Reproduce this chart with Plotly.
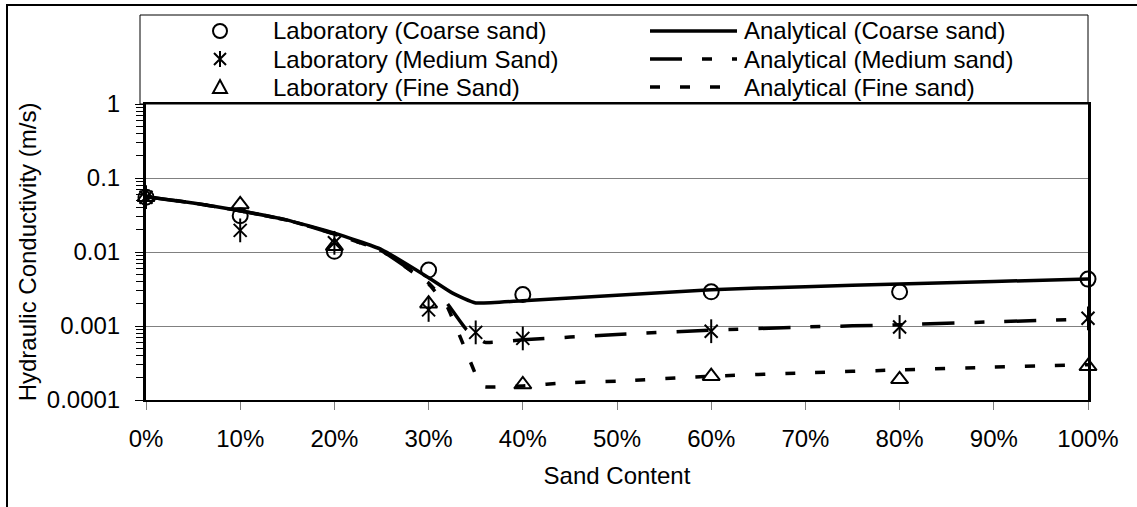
import plotly.graph_objects as go

# ---- data -------------------------------------------------------------
# sand content (fraction) of the laboratory mixes
lab_x = [0.0, 0.10, 0.20, 0.30, 0.40, 0.60, 0.80, 1.00]
lab_medium_x = [0.0, 0.10, 0.20, 0.30, 0.35, 0.40, 0.60, 0.80, 1.00]

# measured hydraulic conductivity (m/s)
lab_coarse = [0.055, 0.031, 0.0102, 0.0057, 0.00266, 0.0029, 0.0029, 0.0043]
lab_medium = [0.055, 0.0196, 0.0133, 0.00165, 0.00082, 0.00068, 0.00085, 0.00097, 0.00127]
lab_fine = [0.055, 0.044, 0.0120, 0.0020, 0.000162, 0.00021, 0.00019, 0.000285]

# analytical model curves
ana_coarse_x = [0.0, 0.05, 0.10, 0.15, 0.20, 0.25, 0.30, 0.325, 0.35, 0.40,
                0.50, 0.60, 0.70, 0.80, 0.90, 1.00]
ana_coarse = [0.056, 0.046, 0.036, 0.027, 0.018, 0.0108, 0.0045, 0.0028, 0.00205, 0.0022,
              0.0026, 0.0031, 0.0034, 0.0037, 0.0040, 0.0043]

ana_medium_x = [0.0, 0.05, 0.10, 0.15, 0.20, 0.25, 0.30, 0.32, 0.34, 0.36, 0.40,
                0.50, 0.60, 0.70, 0.80, 0.90, 1.00]
ana_medium = [0.056, 0.046, 0.036, 0.027, 0.0175, 0.0104, 0.0038, 0.0020, 0.0009, 0.0006, 0.00065,
              0.00077, 0.00088, 0.00097, 0.00104, 0.00114, 0.00124]

ana_fine_x = [0.0, 0.05, 0.10, 0.15, 0.20, 0.25, 0.30, 0.32, 0.34, 0.355, 0.36, 0.40,
              0.45, 0.50, 0.60, 0.70, 0.80, 0.90, 1.00]
ana_fine = [0.056, 0.046, 0.036, 0.027, 0.0175, 0.0104, 0.0037, 0.0018, 0.00045, 0.00016, 0.00015, 0.000155,
            0.000172, 0.00018, 0.00021, 0.000233, 0.000255, 0.000278, 0.0003]

x_ticks = [0.0, 0.1, 0.2, 0.3, 0.4, 0.5, 0.6, 0.7, 0.8, 0.9, 1.0]
x_ticktext = ["0%", "10%", "20%", "30%", "40%", "50%", "60%", "70%", "80%", "90%", "100%"]
y_ticks = [0.0001, 0.001, 0.01, 0.1, 1]
y_ticktext = ["0.0001", "0.001", "0.01", "0.1", "1"]

legend_lab = ["Laboratory (Coarse sand)", "Laboratory (Medium Sand)", "Laboratory (Fine Sand)"]
legend_ana = ["Analytical (Coarse sand)", "Analytical (Medium sand)", "Analytical (Fine sand)"]

# ---- layout geometry (pixels) ------------------------------------------
W, H = 1137, 507
L, R, T, B = 146, 1088, 104, 400
FONT = "Liberation Sans, Arial, Helvetica, sans-serif"
FS = 24
FS_LEG = 24

def px(x):
    return (x - L) / (R - L)

def py(y):
    return (B - y) / (B - T)

DASH_MED = "32px,20px,10px,20px"
DASH_FINE = "10px,20px"
LW = 3.5

fig = go.Figure()

fig.add_trace(go.Scatter(x=ana_coarse_x, y=ana_coarse, mode="lines", cliponaxis=False,
                         line=dict(color="black", width=LW, shape="spline", smoothing=0.4),
                         showlegend=False))
fig.add_trace(go.Scatter(x=ana_medium_x, y=ana_medium, mode="lines", cliponaxis=False,
                         line=dict(color="black", width=LW, dash=DASH_MED, shape="spline", smoothing=0.3),
                         showlegend=False))
fig.add_trace(go.Scatter(x=ana_fine_x, y=ana_fine, mode="lines", cliponaxis=False,
                         line=dict(color="black", width=LW, dash=DASH_FINE, shape="spline", smoothing=0.3),
                         showlegend=False))

mk_line = dict(color="black", width=2)
fig.add_trace(go.Scatter(x=lab_x, y=lab_coarse, mode="markers", cliponaxis=False,
                         marker=dict(symbol="circle-open", size=15, color="black", line=mk_line),
                         showlegend=False))
# the medium-sand marker is an "x" crossed by a vertical bar
fig.add_trace(go.Scatter(x=lab_medium_x, y=lab_medium, mode="markers", cliponaxis=False,
                         marker=dict(symbol="x-thin-open", size=13, color="black", line=mk_line),
                         showlegend=False))
fig.add_trace(go.Scatter(x=lab_medium_x, y=lab_medium, mode="markers", cliponaxis=False,
                         marker=dict(symbol="line-ns-open", size=17, color="black", line=mk_line),
                         showlegend=False))
fig.add_trace(go.Scatter(x=lab_x, y=lab_fine, mode="markers", cliponaxis=False,
                         marker=dict(symbol="triangle-up-open", size=15, color="black", line=mk_line),
                         showlegend=False))

shapes = []
annotations = []

# outer frame and legend box
shapes.append(dict(type="rect", xref="paper", yref="paper",
                   x0=px(7), x1=px(W + 20), y0=py(5), y1=py(H + 20),
                   line=dict(color="black", width=2), layer="below"))
shapes.append(dict(type="rect", xref="paper", yref="paper",
                   x0=px(140), x1=px(R), y0=py(15), y1=py(T),
                   line=dict(color="black", width=1), layer="below"))

rows = [31, 59, 87]
mx, tx1 = 220, 271
lx0, lx1, tx2 = 650, 737, 742

# legend keys: markers
shapes.append(dict(type="circle", xref="paper", yref="paper", xsizemode="pixel", ysizemode="pixel",
                   xanchor=px(mx), yanchor=py(rows[0]), x0=-7, x1=7, y0=-7, y1=7,
                   line=dict(color="black", width=2)))
shapes.append(dict(type="path", xref="paper", yref="paper", xsizemode="pixel", ysizemode="pixel",
                   xanchor=px(mx), yanchor=py(rows[1]),
                   path="M-6,-6L6,6M-6,6L6,-6M0,-8L0,8",
                   line=dict(color="black", width=2)))
shapes.append(dict(type="path", xref="paper", yref="paper", xsizemode="pixel", ysizemode="pixel",
                   xanchor=px(mx), yanchor=py(rows[2]),
                   path="M0,7L7,-6L-7,-6Z",
                   line=dict(color="black", width=2)))

# legend keys: lines
for row, dash in zip(rows, ["solid", DASH_MED, DASH_FINE]):
    shapes.append(dict(type="line", xref="paper", yref="paper",
                       x0=px(lx0), x1=px(lx1), y0=py(row), y1=py(row),
                       line=dict(color="black", width=LW, dash=dash)))

for row, t1, t2 in zip(rows, legend_lab, legend_ana):
    annotations.append(dict(xref="paper", yref="paper", x=px(tx1), y=py(row), text=t1,
                            showarrow=False, xanchor="left", yanchor="middle",
                            font=dict(family=FONT, size=FS_LEG, color="black")))
    annotations.append(dict(xref="paper", yref="paper", x=px(tx2), y=py(row), text=t2,
                            showarrow=False, xanchor="left", yanchor="middle",
                            font=dict(family=FONT, size=FS_LEG, color="black")))

fig.update_layout(
    width=W, height=H,
    margin=dict(l=L, r=W - R, t=T, b=H - B, autoexpand=False),
    paper_bgcolor="white", plot_bgcolor="white",
    font=dict(family=FONT, size=FS, color="black"),
    showlegend=False,
    shapes=shapes, annotations=annotations,
    xaxis=dict(range=[0, 1], tickvals=x_ticks, ticktext=x_ticktext,
               ticks="outside", ticklen=8, tickwidth=1, tickcolor="#808080",
               ticklabelstandoff=8,
               showgrid=False, zeroline=False,
               showline=True, linecolor="black", linewidth=2, mirror=True,
               title=dict(text="Sand Content", standoff=16, font=dict(size=FS))),
    yaxis=dict(type="log", range=[-4, 0], tickvals=y_ticks, ticktext=y_ticktext,
               ticks="outside", ticklen=8, tickwidth=1, tickcolor="black",
               ticklabelstandoff=10,
               minor=dict(ticks="outside", ticklen=7, dtick="D1", tickcolor="black",
                          tickwidth=1, showgrid=False),
               showgrid=True, gridcolor="#808080", gridwidth=1, zeroline=False,
               showline=True, linecolor="black", linewidth=3, mirror=True,
               title=dict(text="Hydraulic Conductivity (m/s)", standoff=4, font=dict(size=FS))),
    yaxis2=dict(type="log", range=[-4, 0], overlaying="y", anchor="x", side="left",
                showgrid=False, showticklabels=False, ticks="", zeroline=False, showline=False,
                minor=dict(ticks="inside", ticklen=6, dtick="D1", tickcolor="black",
                           tickwidth=1, showgrid=False)),
)

fig.write_html("out.html")
